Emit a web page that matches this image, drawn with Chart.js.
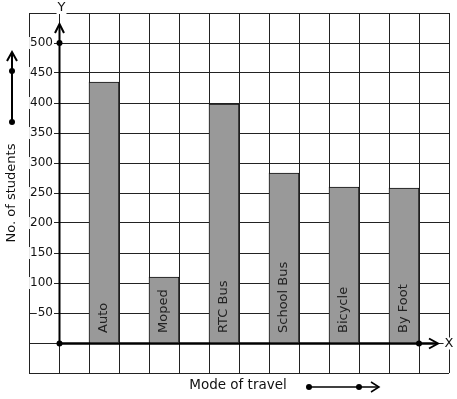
<!DOCTYPE html>
<html>
<head>
<meta charset="utf-8">
<script src="https://cdn.jsdelivr.net/npm/chart.js@4"></script>
<style>
  body { margin: 0; background: #fff; }
  canvas { display: block; }
</style>
</head>
<body>
<canvas id="modeChart" width="457" height="399"></canvas>
<script>
// Data
const categories = ['Auto', 'Moped', 'RTC Bus', 'School Bus', 'Bicycle', 'By Foot'];
const students = [435, 110, 398, 283, 260, 258];
const yTicks = [50, 100, 150, 200, 250, 300, 350, 400, 450, 500];

// graph paper: 14 columns, a bar in every second column starting at column 2
const SLOTS = 14;
const slotLabels = new Array(SLOTS).fill('');
const slotValues = new Array(SLOTS).fill(null);
categories.forEach((c, i) => {
  slotLabels[2 + i * 2] = c;
  slotValues[2 + i * 2] = students[i];
});

const FONT = "'DejaVu Sans', sans-serif";

function dot(ctx, x, y) {
  ctx.beginPath();
  ctx.arc(x, y, 3, 0, Math.PI * 2);
  ctx.fill();
}

function whiteText(ctx, text, x, y, align) {
  const w = ctx.measureText(text).width;
  const left = align === 'right' ? x - w : (align === 'center' ? x - w / 2 : x);
  ctx.fillStyle = '#fff';
  ctx.fillRect(left - 1, y - 6, w + 2, 12);
  ctx.fillStyle = '#111';
  ctx.textAlign = align;
  ctx.fillText(text, x, y);
}

// axes, arrows, labels drawn over the grid
const paperPlugin = {
  id: 'paper',
  afterDraw(chart) {
    const ctx = chart.ctx;
    const xs = chart.scales.x;
    const ys = chart.scales.y;
    const axisX = (xs.getPixelForValue(0) + xs.getPixelForValue(1)) / 2 + 0.5;
    const axisY = ys.getPixelForValue(0) + 0.5;
    ctx.save();
    ctx.textBaseline = 'middle';

    // bar labels, vertical inside the bars
    ctx.font = '13px ' + FONT;
    ctx.fillStyle = '#222';
    categories.forEach((c, i) => {
      const x = xs.getPixelForValue(2 + i * 2);
      ctx.save();
      ctx.translate(x, ys.getPixelForValue(0) - 10);
      ctx.rotate(-Math.PI / 2);
      ctx.textAlign = 'left';
      ctx.fillText(c, 0, 0);
      ctx.restore();
    });

    // y tick labels
    ctx.font = '12px ' + FONT;
    yTicks.forEach(v => whiteText(ctx, String(v), axisX - 6.5, ys.getPixelForValue(v), 'right'));

    // thick axes
    ctx.strokeStyle = '#000';
    ctx.fillStyle = '#000';
    ctx.lineWidth = 2;
    ctx.beginPath();
    ctx.moveTo(axisX, axisY);
    ctx.lineTo(axisX, 25);
    ctx.stroke();
    ctx.beginPath();
    ctx.moveTo(axisX - 4.5, 33);
    ctx.lineTo(axisX, 24);
    ctx.lineTo(axisX + 4.5, 33);
    ctx.stroke();

    ctx.lineWidth = 2.5;
    ctx.beginPath();
    ctx.moveTo(axisX, axisY);
    ctx.lineTo(437, axisY);
    ctx.stroke();
    ctx.lineWidth = 2;
    ctx.beginPath();
    ctx.moveTo(429, axisY - 5);
    ctx.lineTo(438, axisY);
    ctx.lineTo(429, axisY + 5);
    ctx.stroke();

    dot(ctx, axisX, ys.getPixelForValue(500));
    dot(ctx, axisX, axisY);
    dot(ctx, (xs.getPixelForValue(12) + xs.getPixelForValue(13)) / 2, axisY);

    // axis letters
    ctx.font = '13px ' + FONT;
    whiteText(ctx, 'Y', axisX + 2, 8, 'center');
    whiteText(ctx, 'X', 449, axisY, 'center');

    // y title with arrow
    ctx.fillStyle = '#111';
    ctx.save();
    ctx.translate(12, 193);
    ctx.rotate(-Math.PI / 2);
    ctx.textAlign = 'center';
    ctx.fillText('No. of students', 0, 0);
    ctx.restore();

    ctx.fillStyle = '#000';
    ctx.lineWidth = 2;
    ctx.beginPath();
    ctx.moveTo(12, 122);
    ctx.lineTo(12, 53);
    ctx.stroke();
    ctx.beginPath();
    ctx.moveTo(7, 61);
    ctx.lineTo(12, 52);
    ctx.lineTo(17, 61);
    ctx.stroke();
    dot(ctx, 12, 71);
    dot(ctx, 12, 122);

    // x title with arrow
    ctx.fillStyle = '#111';
    ctx.textAlign = 'center';
    ctx.font = '13.5px ' + FONT;
    ctx.fillText('Mode of travel', 238, 385);

    ctx.fillStyle = '#000';
    ctx.lineWidth = 1.5;
    ctx.beginPath();
    ctx.moveTo(309, 387);
    ctx.lineTo(378, 387);
    ctx.stroke();
    ctx.beginPath();
    ctx.moveTo(371, 382);
    ctx.lineTo(379, 387);
    ctx.lineTo(371, 392);
    ctx.stroke();
    dot(ctx, 309, 387);
    dot(ctx, 359, 387);

    ctx.restore();
  }
};

const ctx = document.getElementById('modeChart').getContext('2d');
new Chart(ctx, {
  type: 'bar',
  data: {
    labels: slotLabels,
    datasets: [{
      label: 'No. of students',
      data: slotValues,
      backgroundColor: '#999999',
      borderColor: '#111',
      borderWidth: 1,
      barPercentage: 1,
      categoryPercentage: 1
    }]
  },
  options: {
    responsive: false,
    animation: false,
    devicePixelRatio: 1,
    layout: { padding: { left: 29, right: 8, top: 13, bottom: 26 } },
    plugins: {
      legend: { display: false },
      tooltip: { enabled: false }
    },
    scales: {
      x: {
        offset: true,
        grid: { color: '#222', lineWidth: 1, drawTicks: false, offset: true },
        border: { display: false },
        ticks: { display: false }
      },
      y: {
        min: -50,
        max: 550,
        grid: { color: '#222', lineWidth: 1, drawTicks: false },
        border: { display: false },
        ticks: { display: false, stepSize: 50 }
      }
    }
  },
  plugins: [paperPlugin]
});
</script>
</body>
</html>
